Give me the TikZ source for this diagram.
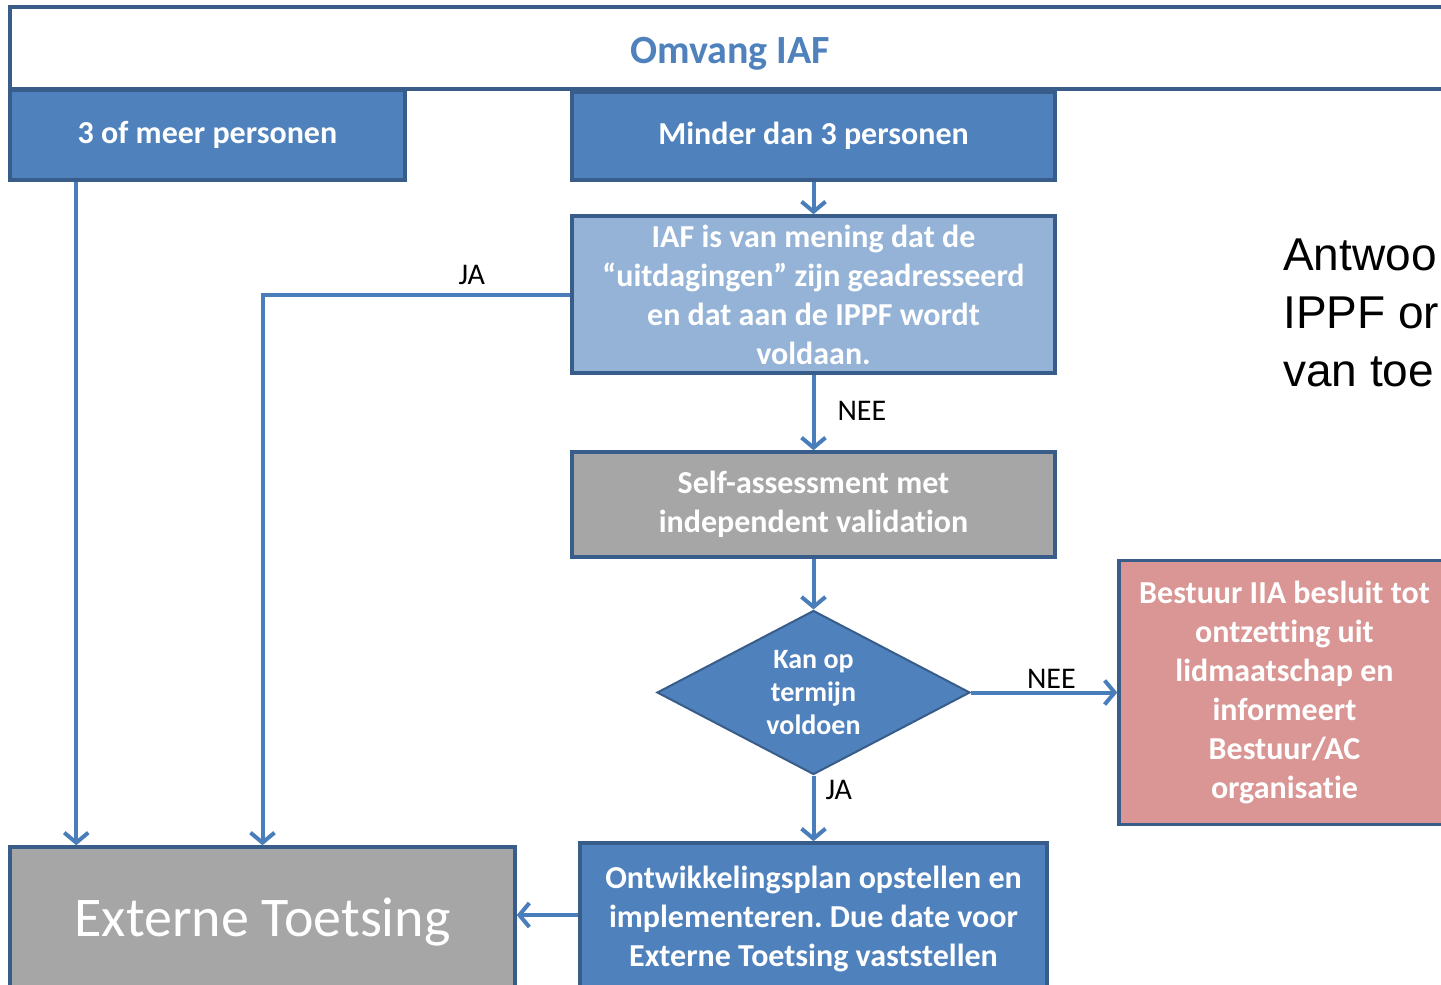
\documentclass[tikz,border=0pt]{standalone}
\usepackage{fontspec}
\setmainfont{Carlito}[Ligatures=NoCommon]
\newfontfamily\arialf{Liberation Sans}
\usetikzlibrary{arrows.meta,shapes.geometric,calc}
\definecolor{bluefill}{HTML}{4F81BD}
\definecolor{blueline}{HTML}{385D8A}
\definecolor{lightblue}{HTML}{95B3D7}
\definecolor{grayfill}{HTML}{A6A6A6}
\definecolor{redfill}{HTML}{D99694}
\definecolor{conn}{HTML}{4A7EBB}
\definecolor{titleblue}{HTML}{4F81BD}
\frenchspacing
\begin{document}
\begin{tikzpicture}[x=1pt,y=-1pt,
  box/.style={draw=blueline, line width=3.5pt, rectangle, inner sep=0pt, text=white,
    align=center, font=\fontsize{32}{39}\selectfont\bfseries},
  arr/.style={draw=conn, line width=4pt, -{Straight Barb[length=10pt,width=24pt]}},
  lab/.style={font=\fontsize{30}{36}\selectfont, text=black, inner sep=2pt}
]
\useasboundingbox (0,0) rectangle (1441,985);
\clip (0,0) rectangle (1441,985);
\fill[white] (0,0) rectangle (1441,985);

% title frame
\node[draw=blueline, line width=4pt, rectangle, inner sep=0pt, fill=white,
  minimum width=1440pt, minimum height=82pt] (frame) at (730,48) {};
\node[text=titleblue, inner sep=0pt, font=\fontsize{40}{48}\selectfont\bfseries] (title) at (730,54) {Omvang IAF};

\node[box, fill=bluefill, minimum width=395pt, minimum height=90pt] (b3) at (207.5,135) {3 of meer personen};
\node[box, fill=bluefill, minimum width=483pt, minimum height=88pt] (bmin) at (813.5,136) {Minder dan 3 personen};
\node[box, fill=lightblue, minimum width=483pt, minimum height=157pt] (biaf) at (813.5,294.5)
  {IAF is van mening dat de\\``uitdagingen'' zijn geadresseerd\\en dat aan de IPPF wordt\\voldaan.};
\node[box, fill=grayfill, minimum width=483pt, minimum height=105pt] (bself) at (813.5,504.5)
  {Self-assessment met\\independent validation};
\node[draw=blueline, line width=2pt, diamond, aspect=1.9, inner sep=0pt, fill=bluefill, text=white,
  align=center, minimum width=313pt, minimum height=164pt,
  font=\fontsize{28}{33}\selectfont\bfseries] (dia) at (813.5,692.5) {Kan op\\termijn\\voldoen};
\node[box, fill=redfill, minimum width=331pt, minimum height=264pt] (bred) at (1284.5,692.5)
  {Bestuur IIA besluit tot\\ontzetting uit\\lidmaatschap en\\informeert\\Bestuur/AC\\organisatie};
\node[box, fill=bluefill, minimum width=467pt, minimum height=151pt] (bont) at (813.5,918.5)
  {Ontwikkelingsplan opstellen en\\implementeren. Due date voor\\Externe Toetsing vaststellen};
\node[box, fill=grayfill, minimum width=505pt, minimum height=143pt, text depth=3pt,
  font=\fontsize{56}{60}\selectfont] (bext) at (262.5,918.5) {Externe Toetsing};

% right text (clipped)
\node[anchor=base west, inner sep=0pt, align=left, text=black,
  font=\arialf\fontsize{46}{58}\selectfont] (rtxt) at (1283,386) {Antwoo\\IPPF or\\van toe};

% connectors
\draw[arr] ([xshift=68pt]b3.south west) -- ([xshift=68pt]bext.north west);
\draw[arr] (bmin.south) -- (biaf.north);
\draw[arr] (biaf.west) -| node[lab, above, yshift=6pt, pos=0.16] {JA} (bext.north);
\draw[arr] (biaf.south) -- node[lab, right, xshift=20pt, pos=0.48] {NEE} (bself.north);
\draw[arr] (bself.south) -- (dia.north);
\draw[arr] (dia.east) -- node[lab, above, pos=0.55] {NEE} (bred.west);
\draw[arr] (dia.south) -- node[lab, right, xshift=8pt, pos=0.22] {JA} (bont.north);
\draw[arr] (bont.west |- 0,915) -- (bext.east |- 0,915);
\end{tikzpicture}
\end{document}
